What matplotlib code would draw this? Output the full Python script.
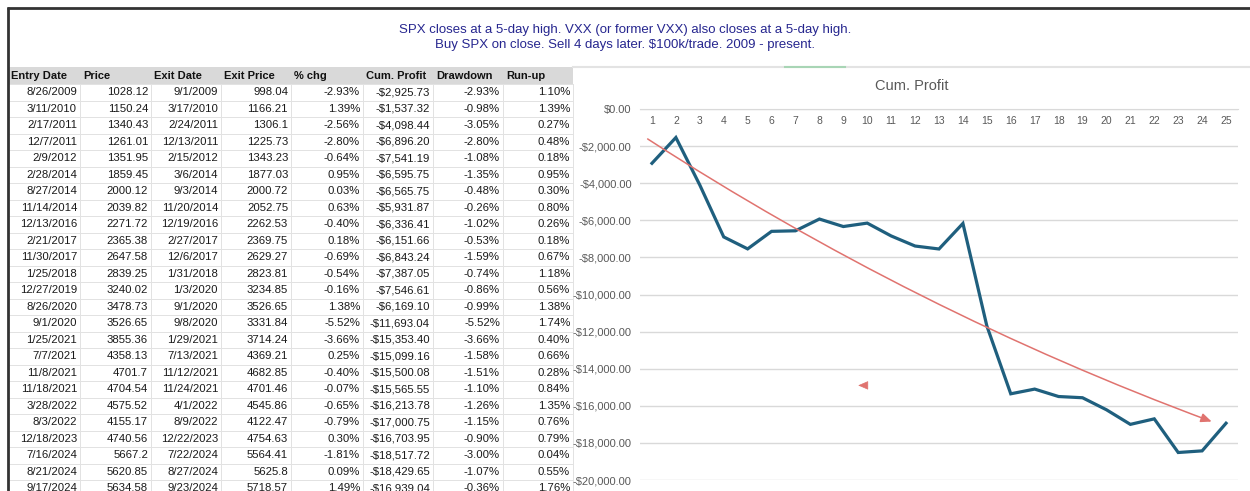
import matplotlib.pyplot as plt
from matplotlib.ticker import FuncFormatter

# trade table
headers = ['Entry Date', 'Price', 'Exit Date', 'Exit Price', '% chg', 'Cum. Profit', 'Drawdown', 'Run-up']
entry_dates = ['8/26/2009', '3/11/2010', '2/17/2011', '12/7/2011', '2/9/2012', '2/28/2014', '8/27/2014',
               '11/14/2014', '12/13/2016', '2/21/2017', '11/30/2017', '1/25/2018', '12/27/2019',
               '8/26/2020', '9/1/2020', '1/25/2021', '7/7/2021', '11/8/2021', '11/18/2021',
               '3/28/2022', '8/3/2022', '12/18/2023', '7/16/2024', '8/21/2024', '9/17/2024']
entry_prices = [1028.12, 1150.24, 1340.43, 1261.01, 1351.95, 1859.45, 2000.12, 2039.82, 2271.72,
                2365.38, 2647.58, 2839.25, 3240.02, 3478.73, 3526.65, 3855.36, 4358.13, 4701.7,
                4704.54, 4575.52, 4155.17, 4740.56, 5667.2, 5620.85, 5634.58]
exit_dates = ['9/1/2009', '3/17/2010', '2/24/2011', '12/13/2011', '2/15/2012', '3/6/2014', '9/3/2014',
              '11/20/2014', '12/19/2016', '2/27/2017', '12/6/2017', '1/31/2018', '1/3/2020',
              '9/1/2020', '9/8/2020', '1/29/2021', '7/13/2021', '11/12/2021', '11/24/2021',
              '4/1/2022', '8/9/2022', '12/22/2023', '7/22/2024', '8/27/2024', '9/23/2024']
exit_prices = [998.04, 1166.21, 1306.1, 1225.73, 1343.23, 1877.03, 2000.72, 2052.75, 2262.53,
               2369.75, 2629.27, 2823.81, 3234.85, 3526.65, 3331.84, 3714.24, 4369.21, 4682.85,
               4701.46, 4545.86, 4122.47, 4754.63, 5564.41, 5625.8, 5718.57]
pct_chg = [-2.93, 1.39, -2.56, -2.80, -0.64, 0.95, 0.03, 0.63, -0.40, 0.18, -0.69, -0.54, -0.16,
           1.38, -5.52, -3.66, 0.25, -0.40, -0.07, -0.65, -0.79, 0.30, -1.81, 0.09, 1.49]
cum_profit = [-2925.73, -1537.32, -4098.44, -6896.20, -7541.19, -6595.75, -6565.75, -5931.87,
              -6336.41, -6151.66, -6843.24, -7387.05, -7546.61, -6169.10, -11693.04, -15353.40,
              -15099.16, -15500.08, -15565.55, -16213.78, -17000.75, -16703.95, -18517.72,
              -18429.65, -16939.04]
drawdown = [-2.93, -0.98, -3.05, -2.80, -1.08, -1.35, -0.48, -0.26, -1.02, -0.53, -1.59, -0.74,
            -0.86, -0.99, -5.52, -3.66, -1.58, -1.51, -1.10, -1.26, -1.15, -0.90, -3.00, -1.07, -0.36]
run_up = [1.10, 1.39, 0.27, 0.48, 0.18, 0.95, 0.30, 0.80, 0.26, 0.18, 0.67, 1.18, 0.56, 1.38,
          1.74, 0.40, 0.66, 0.28, 0.84, 1.35, 0.76, 0.79, 0.04, 0.55, 1.76]

title_lines = ['SPX closes at a 5-day high. VXX (or former VXX) also closes at a 5-day high.',
               'Buy SPX on close. Sell 4 days later. $100k/trade. 2009 - present.']
chart_title = 'Cum. Profit'


def money(v, pos=None):
    return f"-${abs(v):,.2f}" if v < 0 else f"${v:,.2f}"


def pct(v):
    return f"{v:.2f}%"


plt.rcParams['font.family'] = ['Liberation Sans Narrow', 'Liberation Sans']

fig = plt.figure(figsize=(12.5, 4.91), dpi=100)

# pixel-space overlay for the sheet part
bg = fig.add_axes([0, 0, 1, 1], zorder=0)
bg.set_xlim(0, 1250)
bg.set_ylim(491, 0)
bg.axis('off')

grid_c = '#E2E2E2'
col_edges = [8, 80, 151, 221, 291, 363, 433, 503, 573]
head_top, head_bot = 67, 84
row_h = 16.5

bg.fill_between([col_edges[0], col_edges[-1]], head_top, head_bot, color='#D9D9D9', lw=0)
for i in range(27):
    yy = head_bot + i * row_h
    bg.plot([col_edges[0], col_edges[-1]], [yy, yy], color=grid_c, lw=0.7)
for xe in col_edges[1:]:
    bg.plot([xe, xe], [head_bot, 491], color=grid_c, lw=0.7)

for j, h in enumerate(headers):
    bg.text(col_edges[j] + 3, (head_top + head_bot) / 2 + 0.5, h, ha='left', va='center',
            fontsize=8, fontweight='bold', color='#111111')

cols = [entry_dates,
        [f"{v:g}" for v in entry_prices],
        exit_dates,
        [f"{v:g}" for v in exit_prices],
        [pct(v) for v in pct_chg],
        [money(v) for v in cum_profit],
        [pct(v) for v in drawdown],
        [pct(v) for v in run_up]]
for j, col in enumerate(cols):
    for i, s in enumerate(col):
        bg.text(col_edges[j + 1] - 3, head_bot + row_h * (i + 0.5), s, ha='right', va='center',
                fontsize=8.2, color='#1a1a1a')

# frame lines of the sheet
bg.plot([7, 1250], [7.5, 7.5], color='#333333', lw=2, solid_capstyle='butt')
bg.plot([7.5, 7.5], [7, 491], color='#333333', lw=2, solid_capstyle='butt')
bg.plot([573, 1250], [67, 67], color='#E3E3E3', lw=1.5)
bg.plot([785, 845], [67, 67], color='#A8D5B5', lw=1.5)

for k, line in enumerate(title_lines):
    bg.text(625, 30 + 15 * k, line, ha='center', va='center', fontsize=9.5,
            color='#26268F', family='Liberation Sans')

bg.text(912, 86, chart_title, ha='center', va='center', fontsize=10.5, color='#595959')

# chart
ax = fig.add_axes([640 / 1250, 1 - 480 / 491, 598 / 1250, 371 / 491], zorder=1)
ax.patch.set_facecolor('none')
x = list(range(1, len(cum_profit) + 1))
ax.plot(x, cum_profit, color='#1F5F7E', lw=2.3, solid_joinstyle='miter', zorder=3)
ax.set_xlim(0.5, len(x) + 0.5)
ax.set_ylim(-20000, 0)
ax.set_yticks(range(-20000, 1, 2000))
ax.yaxis.set_major_formatter(FuncFormatter(money))
ax.set_xticks(x)
ax.grid(axis='y', color='#D9D9D9', lw=1)
ax.set_axisbelow(True)
for s in ax.spines.values():
    s.set_visible(False)
ax.spines['bottom'].set_visible(True)
ax.spines['bottom'].set_color('#D9D9D9')
ax.spines['bottom'].set_position(('data', 0))
ax.tick_params(axis='both', length=0, colors='#595959')
ax.tick_params(axis='x', pad=5, labelsize=7.5)
ax.tick_params(axis='y', pad=6, labelsize=8)

# hand-drawn trend arrow
red = '#E0736F'
ax.annotate('', xy=(24.4, -16850), xytext=(0.82, -1614),
            arrowprops=dict(arrowstyle='-|>,head_length=0.7,head_width=0.3', color=red, lw=1.1,
                            connectionstyle='arc3,rad=0.055', shrinkA=0, shrinkB=0,
                            mutation_scale=9))
ax.annotate('', xy=(9.62, -14900), xytext=(9.8, -14900),
            arrowprops=dict(arrowstyle='-|>,head_length=0.7,head_width=0.3', color=red, lw=0.5,
                            shrinkA=0, shrinkB=0, mutation_scale=9))

plt.savefig('out.png', dpi=100)
